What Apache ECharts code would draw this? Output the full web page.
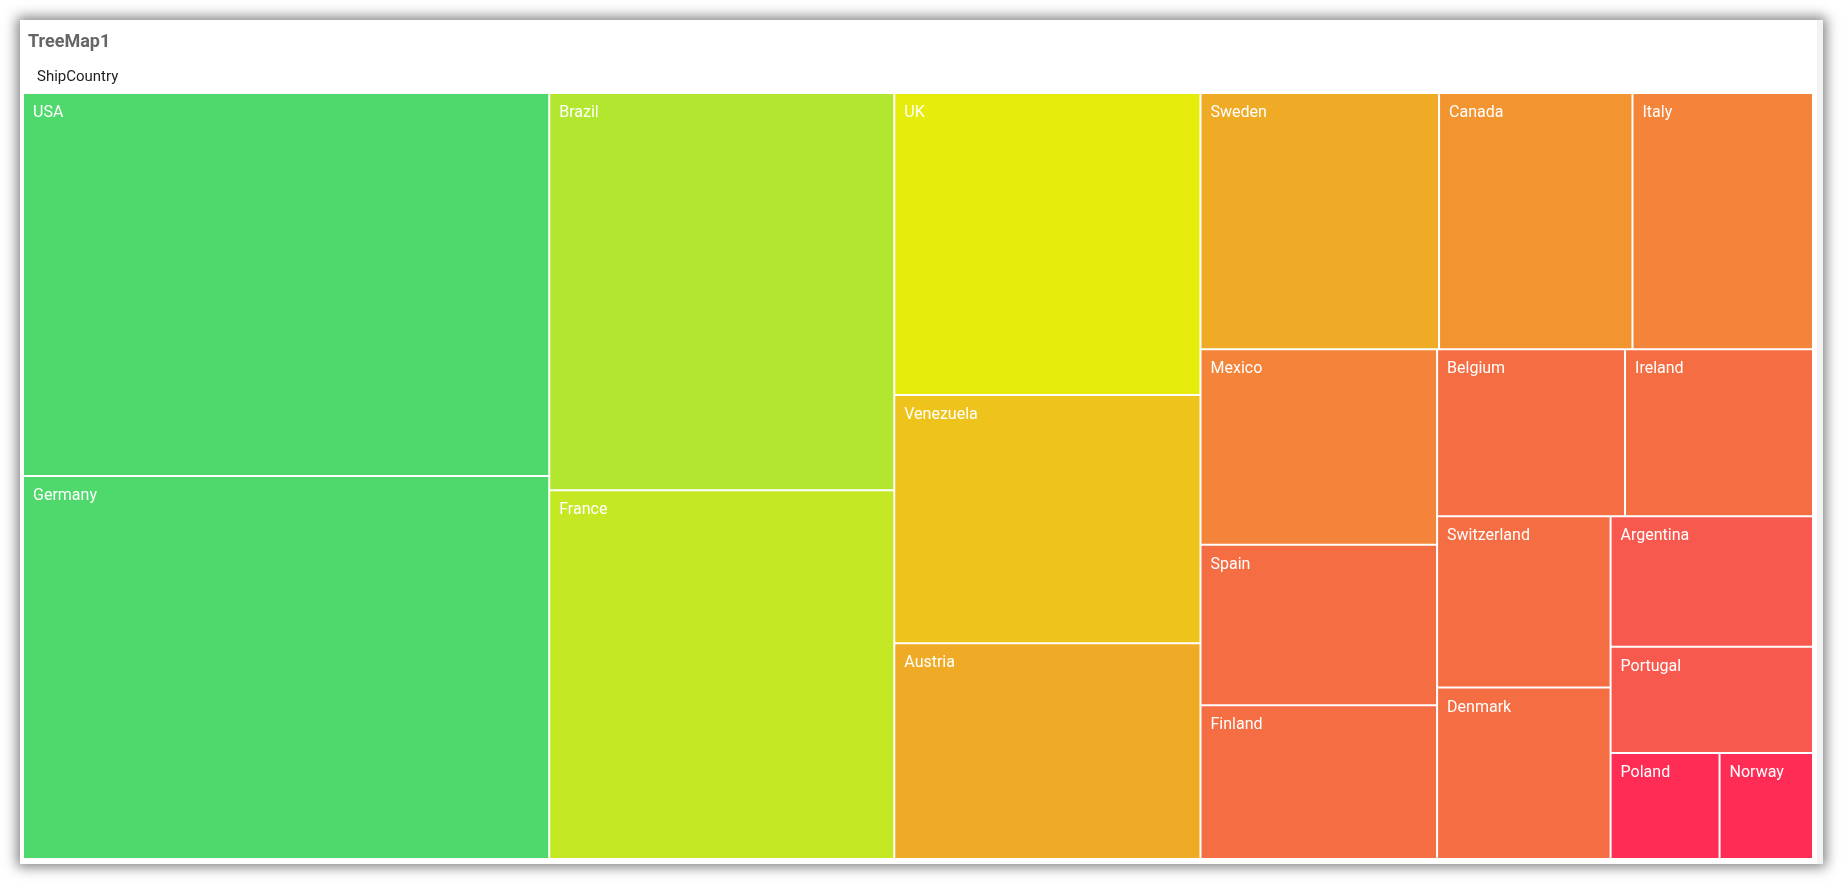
<!DOCTYPE html>
<html>
<head>
<meta charset="utf-8">
<script src="https://cdn.jsdelivr.net/npm/echarts@6/dist/echarts.min.js"></script>
<style>
  html, body { margin: 0; padding: 0; background: #ffffff; width: 1843px; height: 885px; overflow: hidden; }
  #card {
    position: absolute; left: 20px; top: 20px; width: 1803px; height: 844px;
    background: #ffffff;
    box-shadow: 0 0 12px 3px rgba(0,0,0,0.5);
  }
  #strip { position: absolute; right: 0; top: 0; width: 6px; height: 844px; background: #f3f3f3; }
  #chart { position: absolute; left: 0; top: 0; width: 1797px; height: 844px; }
</style>
</head>
<body>
<div id="card"><div id="strip"></div><div id="chart"></div></div>
<script>
// Orders per ship country (already in descending order)
var countries = ['USA', 'Germany', 'Brazil', 'France', 'UK', 'Venezuela', 'Austria', 'Sweden', 'Canada', 'Italy', 'Mexico', 'Spain', 'Finland', 'Belgium', 'Ireland', 'Switzerland', 'Denmark', 'Argentina', 'Portugal', 'Poland', 'Norway'];
var orders = [122, 122, 83, 77, 56, 46, 40, 37, 30, 28, 28, 23, 22, 19, 19, 18, 18, 16, 13, 7, 6];

// value thresholds -> colour (range colour mapping)
var colorRanges = [
  { min: 100, color: '#4FD86B' },
  { min: 80, color: '#B3E62F' },
  { min: 70, color: '#C4E823' },
  { min: 50, color: '#E6ED0C' },
  { min: 45, color: '#EDC31C' },
  { min: 35, color: '#EFAB26' },
  { min: 29, color: '#F29531' },
  { min: 25, color: '#F3843A' },
  { min: 17, color: '#F56D42' },
  { min: 10, color: '#F8594E' },
  { min: 0, color: '#FF2D55' }
];
function colorFor(v) {
  for (var i = 0; i < colorRanges.length; i++) {
    if (v >= colorRanges[i].min) return colorRanges[i].color;
  }
  return colorRanges[colorRanges.length - 1].color;
}

var data = countries.map(function (c, i) {
  return { name: c, value: orders[i], itemStyle: { color: colorFor(orders[i]) } };
});

var chart = echarts.init(document.getElementById('chart'), null, { renderer: 'canvas' });
chart.setOption({
  animation: false,
  title: [
    { text: 'TreeMap1', left: 3, top: 8,
      textStyle: { fontFamily: 'Roboto', fontSize: 18, fontWeight: 'bold', color: '#666666' } },
    { text: 'ShipCountry', left: 12, top: 45,
      textStyle: { fontFamily: 'Roboto', fontSize: 15, fontWeight: 'normal', color: '#222222' } }
  ],
  tooltip: { show: false },
  series: [{
    type: 'treemap',
    left: 4, top: 74, width: 1788, height: 764,
    roam: false,
    nodeClick: false,
    breadcrumb: { show: false },
    sort: false,
    squareRatio: 1,
    label: {
      show: true,
      position: [9, 10],
      padding: 0,
      formatter: '{b}',
      color: '#ffffff',
      fontFamily: 'Roboto',
      fontSize: 16,
      lineHeight: 18
    },
    upperLabel: { show: false },
    itemStyle: { borderWidth: 0, gapWidth: 2, borderColor: '#ffffff' },
    levels: [
      { itemStyle: { borderWidth: 0, gapWidth: 2, borderColor: '#ffffff' } },
      { itemStyle: { borderWidth: 0, gapWidth: 0 } }
    ],
    data: data
  }]
});
</script>
</body>
</html>
